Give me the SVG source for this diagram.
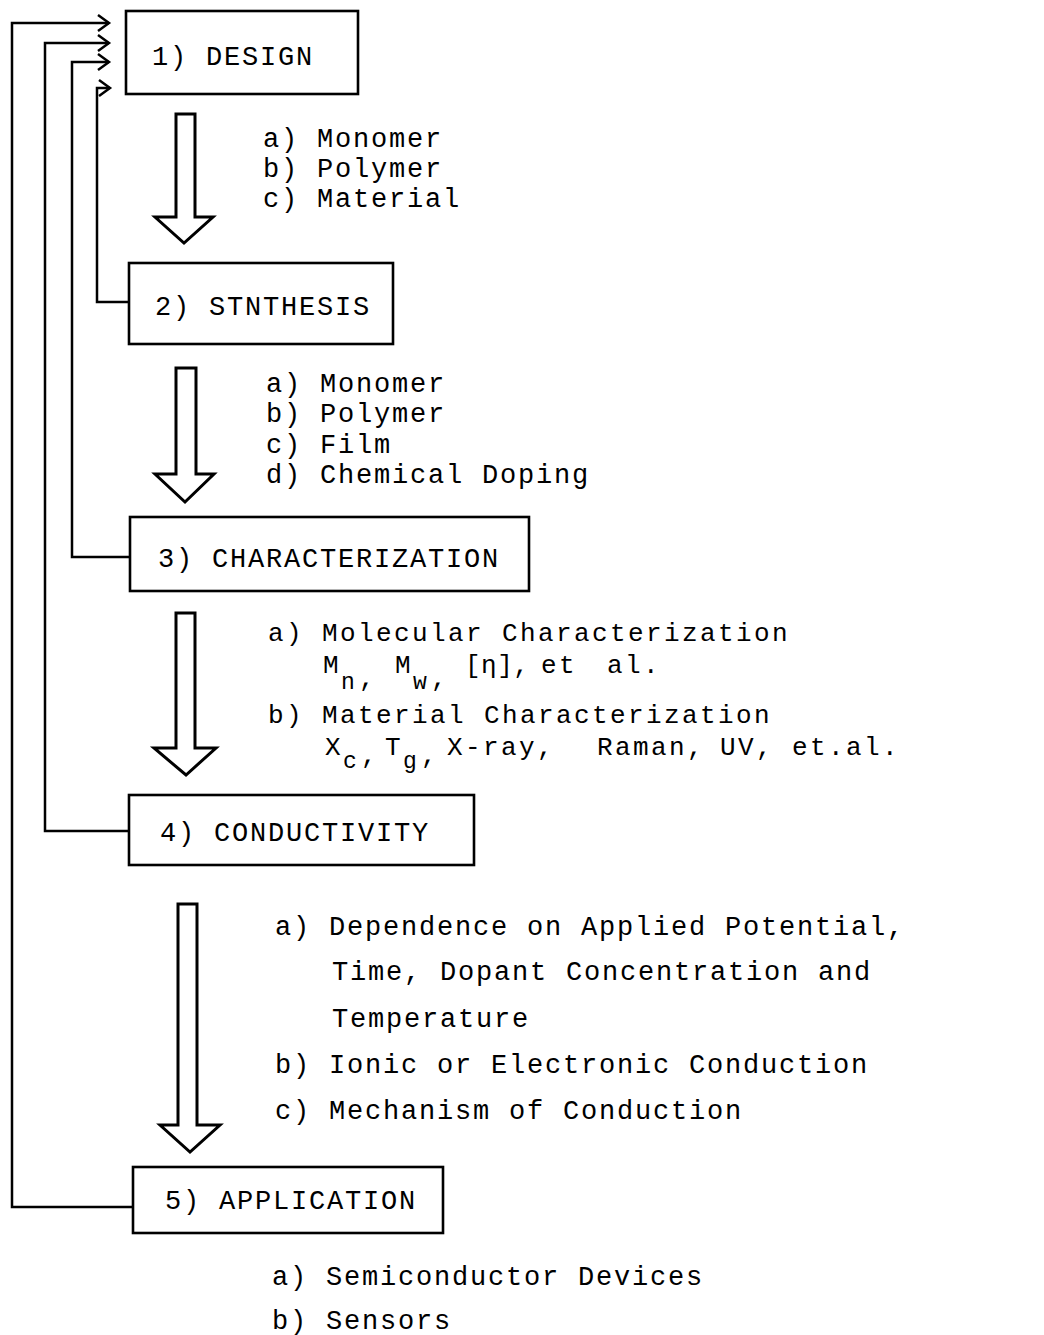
<svg xmlns="http://www.w3.org/2000/svg" width="1044" height="1335" viewBox="0 0 1044 1335">
<style>
.box{fill:#fff;stroke:#000;stroke-width:2.6}
.t{font-family:"Liberation Mono","DejaVu Sans Mono",monospace;font-size:27px;letter-spacing:1.8px;fill:#000}
.s{font-family:"Liberation Mono","DejaVu Sans Mono",monospace;font-size:26px;letter-spacing:2.4px;fill:#000}
.sub{font-size:23px;letter-spacing:0}
.tight{letter-spacing:0.5px}
.fb{fill:none;stroke:#000;stroke-width:2.5;marker-end:url(#chev)}
.big{fill:#fff;stroke:#000;stroke-width:3;stroke-linejoin:miter}
</style>
<defs>
<marker id="chev" markerUnits="userSpaceOnUse" markerWidth="16" markerHeight="20" viewBox="0 0 16 20" refX="13" refY="10" orient="auto">
<path d="M2,2 L13,10 L2,18" fill="none" stroke="#000" stroke-width="2.5"/>
</marker>
</defs>
<rect width="1044" height="1335" fill="#fff"/>
<g id="connectors">
<path class="fb" d="M133,1207 H12 V23 H109"/>
<path class="fb" d="M129,831 H45 V43 H109"/>
<path class="fb" d="M130,557 H72 V62 H109"/>
<path class="fb" d="M129,302 H97 V88 H110"/>
<polygon class="big" points="176,114 195,114 195,217 213,217 184,243 155,217 176,217"/>
<polygon class="big" points="176,368 196,368 196,474 214,474 185,502 155,474 176,474"/>
<polygon class="big" points="176,613 195,613 195,748 216,748 186,775 154,748 176,748"/>
<polygon class="big" points="178,904 197,904 197,1125 220,1125 190,1152 160,1125 178,1125"/>
<g id="label-design-synthesis" class="t">
<text x="263" y="147">a) Monomer</text>
<text x="263" y="177">b) Polymer</text>
<text x="263" y="207">c) Material</text>
</g>
<g id="label-synthesis-characterization" class="t">
<text x="266" y="392">a) Monomer</text>
<text x="266" y="422">b) Polymer</text>
<text x="266" y="453">c) Film</text>
<text x="266" y="483">d) Chemical Doping</text>
</g>
<g id="label-characterization-conductivity" class="s">
<text x="268" y="641">a) Molecular Characterization</text>
<text y="673"><tspan x="323">M</tspan><tspan class="sub" x="341" y="689">n</tspan><tspan x="359" y="686">,</tspan><tspan x="395" y="673">M</tspan><tspan class="sub" x="413" y="689">w</tspan><tspan x="431" y="686">,</tspan><tspan class="tight" x="465" y="673">[η],</tspan><tspan x="541">et</tspan><tspan x="607">al.</tspan></text>
<text x="268" y="723">b) Material Characterization</text>
<text y="755"><tspan x="325">X</tspan><tspan class="sub" x="343" y="768">c</tspan><tspan x="361" y="763">,</tspan><tspan x="385" y="755">T</tspan><tspan class="sub" x="403" y="768">g</tspan><tspan x="421" y="763">,</tspan><tspan x="447" y="755">X-ray,</tspan><tspan x="597">Raman,</tspan><tspan x="720">UV,</tspan><tspan x="792">et.al.</tspan></text>
</g>
<g id="label-conductivity-application" class="t">
<text x="275" y="935">a) Dependence on Applied Potential,</text>
<text x="332" y="980">Time, Dopant Concentration and</text>
<text x="332" y="1027">Temperature</text>
<text x="275" y="1073">b) Ionic or Electronic Conduction</text>
<text x="275" y="1119">c) Mechanism of Conduction</text>
</g>
<g id="label-application" class="t">
<text x="272" y="1285">a) Semiconductor Devices</text>
<text x="272" y="1329">b) Sensors</text>
</g>
</g>
<g id="node-design">
<rect class="box" x="126" y="11" width="232" height="83"/>
<text class="t" x="152" y="65">1) DESIGN</text>
</g>
<g id="node-synthesis">
<rect class="box" x="129" y="263" width="264" height="81"/>
<text class="t" x="155" y="315">2) STNTHESIS</text>
</g>
<g id="node-characterization">
<rect class="box" x="130" y="517" width="399" height="74"/>
<text class="t" x="158" y="567">3) CHARACTERIZATION</text>
</g>
<g id="node-conductivity">
<rect class="box" x="129" y="795" width="345" height="70"/>
<text class="t" x="160" y="841">4) CONDUCTIVITY</text>
</g>
<g id="node-application">
<rect class="box" x="133" y="1167" width="310" height="66"/>
<text class="t" x="165" y="1209">5) APPLICATION</text>
</g>
</svg>
